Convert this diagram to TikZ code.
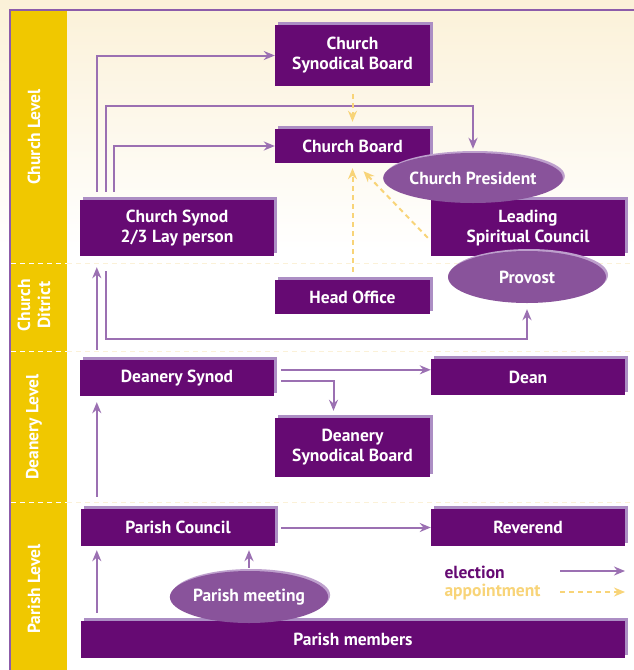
\documentclass[tikz,border=0pt]{standalone}
\usepackage{fontspec}
\setmainfont{PT Sans}
\usetikzlibrary{arrows.meta,shapes.geometric,shadows,positioning}
\definecolor{boxpurple}{RGB}{102,10,115}
\definecolor{boxshade}{RGB}{172,142,196}
\definecolor{ovalpurple}{RGB}{137,83,155}
\definecolor{ovalshade}{RGB}{190,160,205}
\definecolor{arrowpurple}{RGB}{155,112,178}
\definecolor{apptyellow}{RGB}{248,212,120}
\definecolor{bandyellow}{RGB}{240,200,0}
\definecolor{framepurple}{RGB}{140,92,170}
\definecolor{cream}{RGB}{251,241,216}
\begin{document}
\begin{tikzpicture}[x=1pt,y=-1pt,
    lab/.style={text=white,font=\bfseries\fontsize{17.5}{20}\selectfont,align=center},
    box/.style={lab,fill=boxpurple,inner sep=0pt,general shadow={fill=boxshade,shadow xshift=3pt,shadow yshift=3pt}},
    oval/.style={lab,ellipse,fill=ovalpurple,inner sep=0pt,minimum width=158pt,minimum height=52pt,general shadow={fill=ovalshade,shadow xshift=2pt,shadow yshift=2pt}},
    elec/.style={draw=arrowpurple,line width=2pt,-{Stealth[length=11pt,width=9pt]}},
    appt/.style={draw=apptyellow,line width=2pt,dash pattern=on 5pt off 4pt,-{Stealth[length=11pt,width=9pt]}}]
    \useasboundingbox (0,0) rectangle (634,670);
    \fill[white] (0,0) rectangle (634,670);
    \shade[top color=cream,bottom color=white] (0,0) rectangle (634,250);
    \fill[bandyellow] (11,11) rectangle (67,670);
    \draw[framepurple,line width=1.2pt] (10,670) -- (10,10) -- (634,10);
    \foreach \y in {263,351,502} {
        \draw[white,line width=1pt,dash pattern=on 5pt off 4pt] (11,\y) -- (67,\y);
        \draw[cream,line width=1pt,dash pattern=on 5pt off 4pt] (67,\y) -- (634,\y);
    }
    \foreach \y/\t in {137/Church Level,305/{Church\\Ditrict},427/Deanery Level,589/Parish Level}
        \node[lab,rotate=90] (lvl\y) at (34,\y) {\t};
    \node[box,minimum width=155pt,minimum height=61pt] (csb) at (352.5,55.5) {Church\\Synodical Board};
    \node[box,minimum width=155pt,minimum height=34pt] (cb) at (352.5,146) {Church Board};
    \node[box,minimum width=194pt,minimum height=56pt] (synod) at (177,228) {Church Synod\\2/3 Lay person};
    \node[box,minimum width=194pt,minimum height=56pt] (lsc) at (528,228) {Leading\\Spiritual Council};
    \node[box,minimum width=155pt,minimum height=34pt] (ho) at (352.5,297) {Head Office};
    \node[box,minimum width=194pt,minimum height=36pt] (dsyn) at (177,378) {Deanery Synod};
    \node[box,minimum width=194pt,minimum height=36pt] (dean) at (528,377) {Dean};
    \node[box,minimum width=155pt,minimum height=59pt] (dsb) at (352.5,447.5) {Deanery\\Synodical Board};
    \node[box,minimum width=194pt,minimum height=37pt] (pc) at (178,527.5) {Parish Council};
    \node[box,minimum width=194pt,minimum height=37pt] (rev) at (528,527.5) {Reverend};
    \node[box,minimum width=544pt,minimum height=37pt] (pm) at (353,639.5) {Parish members};
    \node[oval,minimum height=50pt] (pres) at (473,178) {Church President};
    \node[oval] (prov) at (527,277) {Provost};
    \node[oval] (pmeet) at (249,597) {Parish meeting};
    \coordinate (s1) at ([xshift=17pt,yshift=8pt]synod.north west);
    \coordinate (s2) at ([xshift=26pt,yshift=8pt]synod.north west);
    \coordinate (s3) at ([xshift=34pt,yshift=8pt]synod.north west);
    \draw[elec] (s1) |- (csb);
    \draw[elec] (s2) |- ([yshift=-20pt]csb.south) -| ([yshift=4pt]pres.north);
    \draw[elec] (s3) |- (cb);
    \draw[elec] ([xshift=17pt,yshift=10pt]dsyn.north west) -- ([xshift=17pt,yshift=-11pt]synod.south west);
    \draw[elec] ([xshift=26pt,yshift=-15pt]synod.south west) |- ([yshift=-36pt]prov.south) -- ([yshift=-6pt]prov.south);
    \coordinate (d1) at ([xshift=7pt,yshift=-10pt]dsyn.north east);
    \coordinate (d2) at ([xshift=7pt,yshift=-21pt]dsyn.north east);
    \draw[elec] (d1) -- (d1 -| dean.west);
    \draw[elec] (d2) -| ([xshift=-19pt,yshift=7pt]dsb.north);
    \draw[elec] ([xshift=16pt,yshift=12pt]pc.north west) -- ([xshift=17pt,yshift=-6pt]dsyn.south west);
    \draw[elec] ([xshift=6pt]pc.east) -- (rev.west);
    \draw[elec] ([xshift=16pt,yshift=8pt]pm.north west) -- ([xshift=16pt,yshift=-4pt]pc.south west);
    \coordinate (p1) at ([yshift=-4pt]pc.south);
    \draw[elec] ([yshift=3pt]pmeet.north) -- (pmeet.north |- p1);
    \draw[appt] ([yshift=-8pt]csb.south) -- ([yshift=7pt]cb.north);
    \draw[appt] ([yshift=8pt]ho.north) -- ([yshift=-5pt]cb.south);
    \draw[appt] ([xshift=-3pt,yshift=-38pt]lsc.north west) -- ([xshift=11pt,yshift=-8pt]cb.south);
    \node[lab,text=boxpurple,anchor=west] (el) at (441,572) {election};
    \node[lab,text=apptyellow,anchor=west] (ap) at (441,592) {appointment};
    \coordinate (le1) at (560,571);
    \coordinate (le2) at (625,571);
    \coordinate (la1) at (560,592);
    \coordinate (la2) at (625,592);
    \draw[elec] (le1) -- (le2);
    \draw[appt] (la1) -- (la2);
\end{tikzpicture}
\end{document}
